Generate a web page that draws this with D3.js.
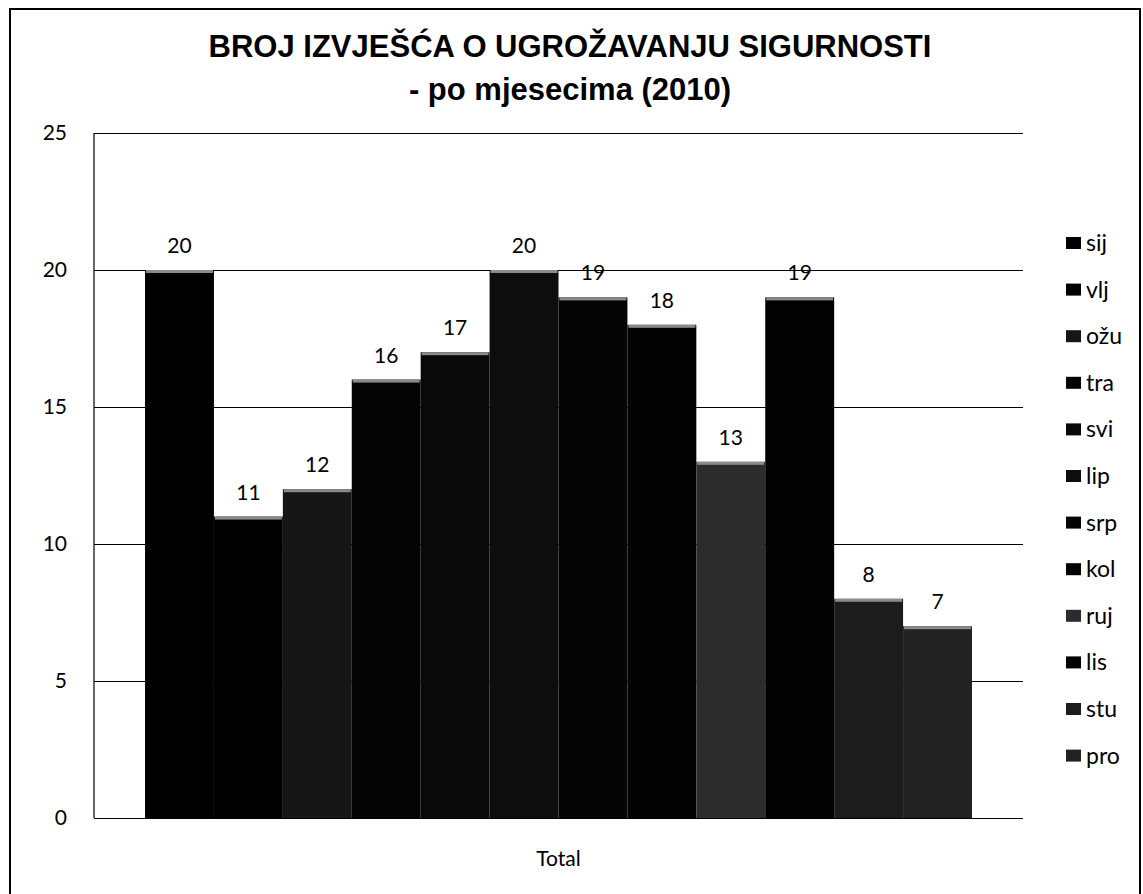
<!DOCTYPE html>
<html>
<head>
<meta charset="utf-8">
<script src="https://cdn.jsdelivr.net/npm/d3@7"></script>
<style>
  body { margin: 0; background: #fff; }
  text { font-family: Lato, "Open Sans", sans-serif; fill: #000; }
</style>
</head>
<body>
<script>
const WIDTH = 1143;
const HEIGHT = 894;

// data
const categories = ["Total"];
const months = ["sij", "vlj", "ožu", "tra", "svi", "lip", "srp", "kol", "ruj", "lis", "stu", "pro"];
const counts = [20, 11, 12, 16, 17, 20, 19, 18, 13, 19, 8, 7];
const yTicks = [0, 5, 10, 15, 20, 25];
const monthColors = ["#000", "#000", "#161616", "#040404", "#090909", "#0d0d0d",
                     "#050505", "#030303", "#2c2c2c", "#020202", "#1c1c1c", "#222"];
const titleLines = ["BROJ IZVJEŠĆA O UGROŽAVANJU SIGURNOSTI", "- po mjesecima (2010)"];

const PLOT = { left: 94, right: 1023, top: 133, bottom: 818 };

const svg = d3.select("body")
    .append("svg")
    .attr("width", WIDTH)
    .attr("height", HEIGHT);

// outer frame
svg.append("rect")
    .attr("x", 10)
    .attr("y", 9)
    .attr("width", 1130)
    .attr("height", 892)
    .attr("fill", "none")
    .attr("stroke", "#000")
    .attr("stroke-width", 2);

// title
svg.selectAll("text.title")
    .data(titleLines)
    .join("text")
    .attr("class", "title")
    .attr("x", 570)
    .attr("y", (d, i) => 57 + i * 43)
    .attr("text-anchor", "middle")
    .style("font-family", "'Liberation Sans', Arial, sans-serif")
    .style("font-weight", "bold")
    .style("font-size", "31px")
    .text(d => d);

const y = d3.scaleLinear()
    .domain([0, 25])
    .range([PLOT.bottom, PLOT.top]);

const x0 = d3.scaleBand()
    .domain(categories)
    .range([PLOT.left, PLOT.right])
    .paddingInner(0)
    .paddingOuter(0.0617);

const x1 = d3.scaleBand()
    .domain(months)
    .range([0, x0.bandwidth()]);

const color = d3.scaleOrdinal()
    .domain(months)
    .range(monthColors);

// gridlines
const yAxis = d3.axisLeft(y)
    .tickValues(yTicks)
    .tickSize(-(PLOT.right - PLOT.left))
    .tickPadding(27);

const gy = svg.append("g")
    .attr("transform", `translate(${PLOT.left},0)`)
    .call(yAxis);

gy.select(".domain").remove();
gy.selectAll(".tick line")
    .attr("stroke", "#000")
    .attr("stroke-width", 1.2);
gy.selectAll(".tick text")
    .attr("fill", "#000")
    .style("font-family", "Lato, sans-serif")
    .style("font-size", "21px");

// left axis line
svg.append("line")
    .attr("x1", PLOT.left)
    .attr("x2", PLOT.left)
    .attr("y1", PLOT.top)
    .attr("y2", PLOT.bottom)
    .attr("stroke", "#000")
    .attr("stroke-width", 1.2);

const rows = months.map((m, i) => ({ month: m, value: counts[i], cat: categories[0] }));

const bars = svg.append("g");

bars.selectAll("rect.bar")
    .data(rows)
    .join("rect")
    .attr("class", "bar")
    .attr("x", d => x0(d.cat) + x1(d.month))
    .attr("y", d => y(d.value))
    .attr("width", x1.bandwidth())
    .attr("height", d => y(0) - y(d.value))
    .attr("fill", d => color(d.month));

// light bevel on bar tops
bars.selectAll("rect.top")
    .data(rows)
    .join("rect")
    .attr("class", "top")
    .attr("x", d => x0(d.cat) + x1(d.month) + 1)
    .attr("y", d => y(d.value))
    .attr("width", x1.bandwidth() - 2)
    .attr("height", 3)
    .attr("fill", "#8a8a8a");

// value labels
svg.append("g")
    .selectAll("text")
    .data(rows)
    .join("text")
    .attr("x", d => x0(d.cat) + x1(d.month) + x1.bandwidth() / 2)
    .attr("y", d => y(d.value) - 17)
    .attr("text-anchor", "middle")
    .style("font-size", "21px")
    .text(d => d.value);

// category label
svg.append("text")
    .attr("x", x0("Total") + x0.bandwidth() / 2)
    .attr("y", 866)
    .attr("text-anchor", "middle")
    .style("font-size", "21px")
    .text(categories[0]);

// legend
const legend = svg.append("g")
    .selectAll("g")
    .data(months)
    .join("g")
    .attr("transform", (d, i) => `translate(1066, ${243 + i * 46.6})`);

legend.append("rect")
    .attr("x", 0)
    .attr("y", -6)
    .attr("width", 15)
    .attr("height", 12)
    .attr("fill", d => color(d));

legend.append("text")
    .attr("x", 20)
    .attr("y", 8)
    .style("font-size", "23px")
    .text(d => d);
</script>
</body>
</html>
